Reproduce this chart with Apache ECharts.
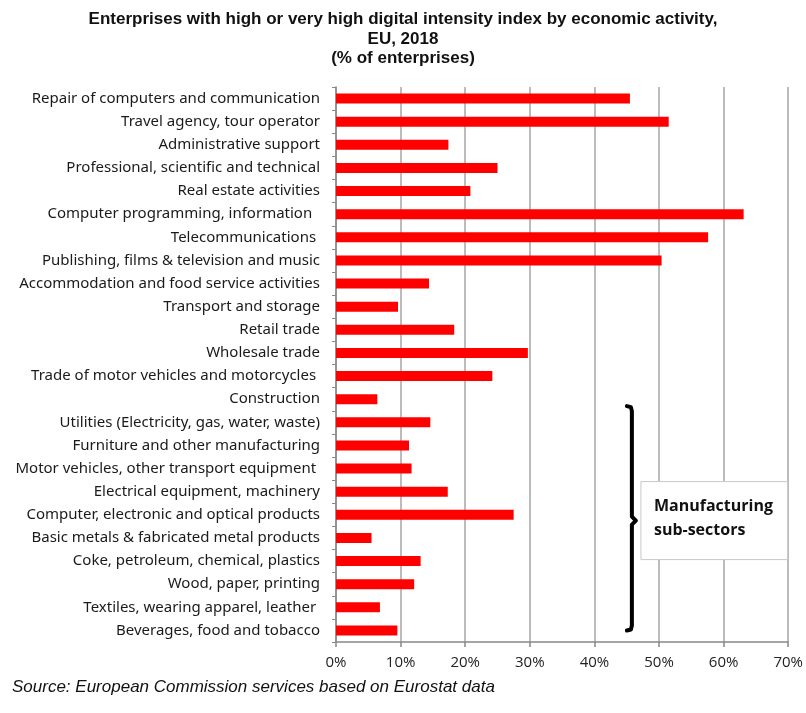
<!DOCTYPE html>
<html><head><meta charset="utf-8">
<script src="https://cdn.jsdelivr.net/npm/echarts@6/dist/echarts.min.js"></script>
<style>html,body{margin:0;padding:0;background:#fff}#c{width:806px;height:713px}</style>
</head><body><div id="c"></div>
<script>
const categories = [
  "Repair of computers and communication",
  "Travel agency, tour operator",
  "Administrative support",
  "Professional, scientific and technical",
  "Real estate activities",
  "Computer programming, information  ",
  "Telecommunications ",
  "Publishing, films & television and music",
  "Accommodation and food service activities",
  "Transport and storage",
  "Retail trade",
  "Wholesale trade",
  "Trade of motor vehicles and motorcycles ",
  "Construction",
  "Utilities (Electricity, gas, water, waste)",
  "Furniture and other manufacturing",
  "Motor vehicles, other transport equipment ",
  "Electrical equipment, machinery",
  "Computer, electronic and optical products",
  "Basic metals & fabricated metal products",
  "Coke, petroleum, chemical, plastics",
  "Wood, paper, printing",
  "Textiles, wearing apparel, leather ",
  "Beverages, food and tobacco"
];
const values = [45.5, 51.5, 17.4, 25.0, 20.8, 63.1, 57.6, 50.4, 14.4, 9.6, 18.3, 29.7, 24.2, 6.4, 14.6, 11.3, 11.7, 17.3, 27.5, 5.5, 13.1, 12.1, 6.8, 9.5];
const xTicks = [0, 10, 20, 30, 40, 50, 60, 70];
const bracketX = 45.8;
const bracketFirst = "Utilities (Electricity, gas, water, waste)";
const bracketLast = "Beverages, food and tobacco";
const bracketMid = "Computer, electronic and optical products";
const boxText = "Manufacturing\nsub-sectors";
const sourceText = "Source: European Commission services based on Eurostat data";

const chart = echarts.init(document.getElementById('c'));
chart.setOption({
  animation: false,
  title: {
    text: "Enterprises with high or very high digital intensity index by economic activity,\nEU, 2018\n(% of enterprises)",
    left: 'center', top: 5,
    textStyle: {fontFamily: "Liberation Sans", fontWeight: 'bold', fontSize: 17, lineHeight: 19.5, color: '#111'}
  },
  grid: {left: 336, right: 17, top: 87, bottom: 71, containLabel: false},
  xAxis: {
    type: 'value', min: xTicks[0], max: xTicks[xTicks.length-1], interval: 10,
    axisLine: {show: true, lineStyle: {color: '#888', width: 1.5}},
    axisTick: {show: true, length: 5, lineStyle: {color: '#888', width: 1.5}},
    splitLine: {show: true, lineStyle: {color: '#a6a6a6', width: 1.5}},
    axisLabel: {formatter: '{value}%', fontFamily: "Open Sans", fontSize: 15, color: '#222', margin: 13}
  },
  yAxis: {
    type: 'category', data: categories, inverse: true,
    axisLine: {show: true, lineStyle: {color: '#888', width: 1.5}},
    axisTick: {show: true, length: 4, lineStyle: {color: '#888'}},
    axisLabel: {fontFamily: "Noto Sans", fontSize: 15, color: '#1a1a1a', margin: 16}
  },
  series: [{
    type: 'bar', data: values, barWidth: 10,
    itemStyle: {color: '#ff0000'}
  }]
});

const band = (chart.convertToPixel({yAxisIndex: 0}, categories[1]) - chart.convertToPixel({yAxisIndex: 0}, categories[0]));
const bx = chart.convertToPixel({xAxisIndex: 0}, bracketX);
const y0 = chart.convertToPixel({yAxisIndex: 0}, bracketFirst) - band * 0.7;
const y1 = chart.convertToPixel({yAxisIndex: 0}, bracketLast);
const ym = chart.convertToPixel({yAxisIndex: 0}, bracketMid) + band * 0.25;
const boxL = chart.convertToPixel({xAxisIndex: 0}, 47.2);
const boxR = chart.convertToPixel({xAxisIndex: 0}, 69.9);
const pts = [[bx-5,y0],[bx-1,y0+1],[bx,y0+5],[bx,ym-4],[bx+4,ym],[bx,ym+4],[bx,y1-5],[bx-1,y1-1],[bx-5,y1]];
chart.setOption({
  graphic: [{
    type: 'text', x: 12, y: 679,
    style: {text: sourceText, fontFamily: "Liberation Sans", fontStyle: 'italic', fontSize: 17, fill: '#111'}
  }, {
    type: 'polyline', shape: {points: pts},
    style: {stroke: '#000', lineWidth: 4, fill: null, lineCap: 'round', lineJoin: 'round'}
  }, {
    type: 'rect', shape: {x: boxL, y: ym - 39, width: boxR - boxL, height: 78},
    style: {fill: '#fff', stroke: '#c8c8c8', lineWidth: 1}
  }, {
    type: 'text', x: boxL + 13, y: ym - 26,
    style: {text: boxText, fontFamily: "Open Sans", fontWeight: 'bold', fontSize: 16, lineHeight: 24, fill: '#111'}
  }]
});
</script></body></html>
